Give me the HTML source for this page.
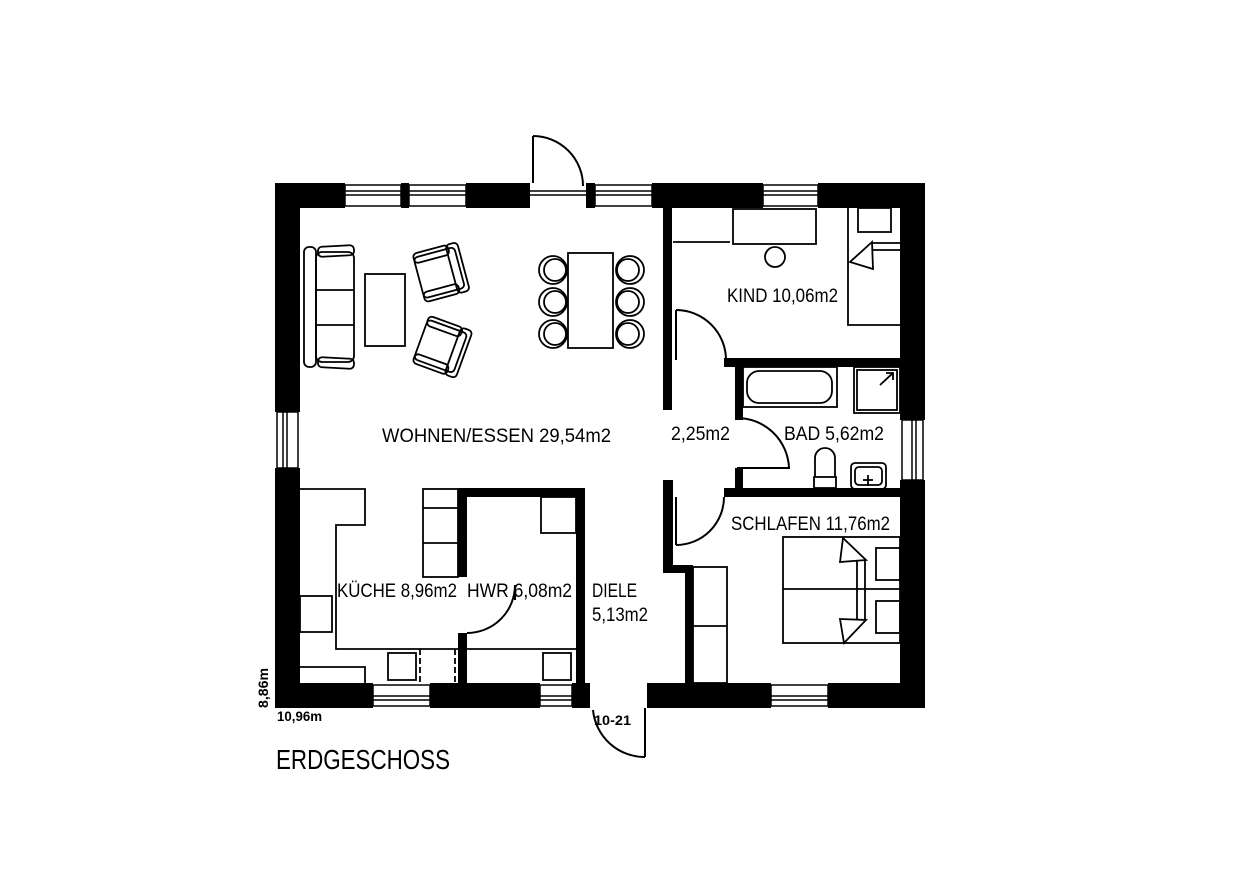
<!DOCTYPE html>
<html><head><meta charset="utf-8"><style>
html,body{margin:0;padding:0;background:#fff}
svg{display:block}
text{font-family:"Liberation Sans",sans-serif;fill:#000}
</style></head><body>
<svg width="1240" height="875" viewBox="0 0 1240 875" xmlns="http://www.w3.org/2000/svg">
<rect width="1240" height="875" fill="#fff"/>
<g fill="#000">
<rect x="275" y="183" width="70" height="25"/>
<rect x="401" y="183" width="8" height="25"/>
<rect x="466" y="183" width="64" height="25"/>
<rect x="586" y="183" width="9" height="25"/>
<rect x="652" y="183" width="111" height="25"/>
<rect x="818" y="183" width="107" height="25"/>
<rect x="275" y="183" width="25" height="229"/>
<rect x="275" y="468" width="25" height="240"/>
<rect x="900" y="183" width="25" height="237"/>
<rect x="900" y="480" width="25" height="228"/>
<rect x="275" y="683" width="98" height="25"/>
<rect x="430" y="683" width="110" height="25"/>
<rect x="572" y="683" width="18" height="25"/>
<rect x="647" y="683" width="124" height="25"/>
<rect x="828" y="683" width="97" height="25"/>
<rect x="663" y="208" width="9" height="202"/>
<rect x="663" y="480" width="10" height="93"/>
<rect x="663" y="565" width="30" height="8"/>
<rect x="685" y="565" width="8" height="118"/>
<rect x="724" y="358" width="176" height="9"/>
<rect x="735" y="358" width="8" height="62"/>
<rect x="735" y="468" width="8" height="22"/>
<rect x="724" y="488" width="176" height="9"/>
<rect x="458" y="488" width="127" height="9"/>
<rect x="458" y="488" width="9" height="89"/>
<rect x="458" y="633" width="9" height="50"/>
<rect x="576" y="488" width="9" height="195"/>
</g>
<g fill="#fff" stroke="#000" stroke-width="1.5">
<rect x="345" y="185" width="56" height="21"/><line x1="345" y1="191" x2="401" y2="191"/><line x1="345" y1="195" x2="401" y2="195"/>
<rect x="409" y="185" width="57" height="21"/><line x1="409" y1="191" x2="466" y2="191"/><line x1="409" y1="195" x2="466" y2="195"/>
<rect x="595" y="185" width="57" height="21"/><line x1="595" y1="191" x2="652" y2="191"/><line x1="595" y1="195" x2="652" y2="195"/>
<rect x="763" y="185" width="55" height="21"/><line x1="763" y1="191" x2="818" y2="191"/><line x1="763" y1="195" x2="818" y2="195"/>
<rect x="277" y="412" width="21" height="56"/><line x1="283" y1="412" x2="283" y2="468"/><line x1="287" y1="412" x2="287" y2="468"/>
<rect x="902" y="420" width="21" height="60"/><line x1="912" y1="420" x2="912" y2="480"/><line x1="916" y1="420" x2="916" y2="480"/>
<rect x="373" y="685" width="57" height="21"/><line x1="373" y1="696" x2="430" y2="696"/><line x1="373" y1="700" x2="430" y2="700"/>
<rect x="540" y="685" width="32" height="21"/><line x1="540" y1="696" x2="572" y2="696"/><line x1="540" y1="700" x2="572" y2="700"/>
<rect x="771" y="685" width="57" height="21"/><line x1="771" y1="696" x2="828" y2="696"/><line x1="771" y1="700" x2="828" y2="700"/>
<line x1="530" y1="191" x2="586" y2="191"/><line x1="530" y1="195" x2="586" y2="195"/>
</g>
<g fill="none" stroke="#000" stroke-width="2">
<line x1="533" y1="183" x2="533" y2="136"/><path d="M533 136 A50 50 0 0 1 583 186"/>
<line x1="645" y1="708" x2="645" y2="757"/><path d="M593 710 A52 52 0 0 0 645 757"/>
<line x1="676" y1="360" x2="676" y2="310"/><path d="M676 310 A50 50 0 0 1 726 360"/>
<line x1="737" y1="468" x2="790" y2="468"/><path d="M737 418 A52 52 0 0 1 789 468"/>
<line x1="676" y1="497" x2="676" y2="545"/><path d="M676 545 A48 48 0 0 0 724 497"/>
<path d="M467 633 A48 48 0 0 0 515 585"/><line x1="515" y1="585" x2="515" y2="600"/>
</g>
<g fill="none" stroke="#000" stroke-width="1.8">
<path d="M300 489 H365 V525 H336 V649 H458"/>
<rect x="300" y="596" width="32" height="36"/>
<path d="M300 667 H365 V683"/>
<rect x="423" y="489" width="35" height="88"/><line x1="423" y1="508" x2="458" y2="508"/><line x1="423" y1="543" x2="458" y2="543"/>
<rect x="388" y="653" width="28" height="27"/>
<line x1="420" y1="649" x2="420" y2="683" stroke-dasharray="6,3"/>
<line x1="455" y1="649" x2="455" y2="683" stroke-dasharray="6,3"/>
<rect x="541" y="497" width="35" height="36"/>
<line x1="467" y1="649" x2="576" y2="649"/>
<rect x="543" y="653" width="28" height="27"/>
<rect x="693" y="567" width="34" height="116"/><line x1="693" y1="626" x2="727" y2="626"/>
<rect x="783" y="537" width="117" height="106"/><line x1="783" y1="589" x2="900" y2="589"/>
<rect x="876" y="548" width="24" height="32"/><rect x="876" y="601" width="24" height="32"/>
<path d="M843 538 L866 560 L840 562 Z" fill="#fff"/>
<path d="M840 619 L866 620 L844 643 Z" fill="#fff"/>
<line x1="857" y1="561" x2="857" y2="619"/><line x1="865" y1="561" x2="865" y2="619"/>
<rect x="733" y="209" width="83" height="35"/>
<circle cx="775" cy="257" r="10"/>
<path d="M673 242 H730"/>
<path d="M848 208 V325 H900"/>
<rect x="858" y="208" width="33" height="24"/>
<path d="M872 242 L850 262 L873 269 Z"/><line x1="872" y1="243" x2="900" y2="243"/><line x1="873" y1="250" x2="900" y2="250"/>
<rect x="743" y="367" width="94" height="40"/>
<rect x="747" y="371" width="85" height="32" rx="12"/>
<rect x="854" y="367" width="46" height="46"/><rect x="857" y="370" width="40" height="40"/>
<path d="M880 385 L893 373 M886 373 H893 V380"/>
<rect x="814" y="477" width="22" height="11"/><path d="M815 477 V458 A10 10 0 0 1 835 458 V477"/>
<rect x="851" y="463" width="35" height="26" rx="4"/><rect x="855" y="467" width="27" height="18" rx="4"/>
<line x1="868" y1="475" x2="868" y2="486"/><line x1="863" y1="480" x2="873" y2="480"/>
<rect x="304" y="247" width="12" height="120" rx="5"/>
<rect x="316" y="252" width="38" height="110" rx="6"/>
<line x1="316" y1="290" x2="354" y2="290"/><line x1="316" y1="325" x2="354" y2="325"/>
<rect x="318" y="246" width="36" height="10" rx="4" transform="rotate(-3 336 251)"/>
<rect x="318" y="358" width="36" height="10" rx="4" transform="rotate(3 336 363)"/>
<rect x="365" y="274" width="40" height="72"/>
<g transform="rotate(-15 438 272)">
<rect x="418" y="252" width="42" height="42" rx="4"/>
<rect x="418" y="248" width="36" height="10" rx="4"/>
<rect x="418" y="288" width="36" height="10" rx="4"/>
<rect x="452" y="248" width="12" height="50" rx="4"/>
</g>
<g transform="rotate(20 440 345)">
<rect x="420" y="325" width="42" height="42" rx="4"/>
<rect x="420" y="321" width="36" height="10" rx="4"/>
<rect x="420" y="361" width="36" height="10" rx="4"/>
<rect x="454" y="321" width="12" height="50" rx="4"/>
</g>
<rect x="568" y="253" width="45" height="95"/>
<circle cx="553" cy="270" r="14"/><circle cx="555" cy="270" r="11"/>
<circle cx="553" cy="302" r="14"/><circle cx="555" cy="302" r="11"/>
<circle cx="553" cy="334" r="14"/><circle cx="555" cy="334" r="11"/>
<circle cx="630" cy="270" r="14"/><circle cx="628" cy="270" r="11"/>
<circle cx="630" cy="302" r="14"/><circle cx="628" cy="302" r="11"/>
<circle cx="630" cy="334" r="14"/><circle cx="628" cy="334" r="11"/>
</g>
<g font-size="19">
<text x="382" y="442" textLength="229" lengthAdjust="spacingAndGlyphs">WOHNEN/ESSEN 29,54m2</text>
<text x="727" y="302" textLength="111" lengthAdjust="spacingAndGlyphs">KIND 10,06m2</text>
<text x="671" y="440" textLength="59" lengthAdjust="spacingAndGlyphs">2,25m2</text>
<text x="784" y="440" textLength="100" lengthAdjust="spacingAndGlyphs">BAD 5,62m2</text>
<text x="731" y="530" textLength="159" lengthAdjust="spacingAndGlyphs">SCHLAFEN 11,76m2</text>
<text x="337" y="597" textLength="120" lengthAdjust="spacingAndGlyphs">KÜCHE 8,96m2</text>
<text x="467" y="597" textLength="105" lengthAdjust="spacingAndGlyphs">HWR 6,08m2</text>
<text x="592" y="597" textLength="45" lengthAdjust="spacingAndGlyphs">DIELE</text>
<text x="592" y="621" textLength="56" lengthAdjust="spacingAndGlyphs">5,13m2</text>
</g>
<g font-size="14" font-weight="bold">
<text x="277" y="721" textLength="45" lengthAdjust="spacingAndGlyphs">10,96m</text>
<text x="594" y="725" textLength="37" lengthAdjust="spacingAndGlyphs">10-21</text>
<text transform="translate(268 708) rotate(-90)" textLength="40" lengthAdjust="spacingAndGlyphs">8,86m</text>
</g>
<text x="276" y="769" font-size="28" textLength="174" lengthAdjust="spacingAndGlyphs">ERDGESCHOSS</text>
</svg>
</body></html>
